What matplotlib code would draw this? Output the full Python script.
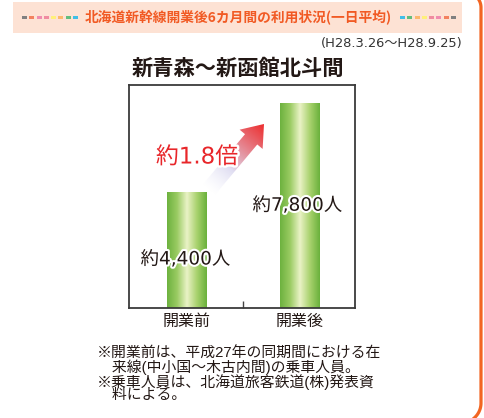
import numpy as np
import matplotlib
matplotlib.use("Agg")
import matplotlib.pyplot as plt
from matplotlib.colors import LinearSegmentedColormap
from matplotlib.patches import Rectangle, Polygon
import matplotlib.patheffects as pe

CJK = ['Noto Sans CJK JP', 'DejaVu Sans']
MIX = ['DejaVu Sans', 'Noto Sans CJK JP']
plt.rcParams['font.family'] = CJK

# ---- data ----
categories = ["開業前", "開業後"]
values = [4400, 7800]
value_labels = ["約4,400人", "約7,800人"]
ratio_label = "約1.8倍"
header_title = "北海道新幹線開業後6カ月間の利用状況(一日平均)"
period_label = "(H28.3.26〜H28.9.25)"
chart_title = "新青森〜新函館北斗間"
notes = ["※開業前は、平成27年の同期間における在",
         "\u3000来線(中小国〜木古内間)の乗車人員。",
         "※乗車人員は、北海道旅客鉄道(株)発表資",
         "\u3000料による。"]
left_squares = ["#808080", "#F3825F", "#F08CB0", "#F08CA0", "#FFF07A", "#FDB86E", "#62BE7E", "#40BEE8"]
right_squares = left_squares[::-1]

W, H = 485, 418
fig = plt.figure(figsize=(W / 100, H / 100), dpi=100)
fig.patch.set_facecolor("white")

# ---- main chart axes ----
ax_l, ax_t, ax_w, ax_h = 129, 85, 226, 223
ax = fig.add_axes([ax_l / W, 1 - (ax_t + ax_h) / H, ax_w / W, ax_h / H])
x = np.arange(len(categories))
bar_w = 0.345
cmap = LinearSegmentedColormap.from_list(
    "g", ["#6DB23F", "#9ACB62", "#EAF2C6", "#A9D26E", "#6AB13C"])
grad = np.linspace(0, 1, 200).reshape(1, -1)
for xi, v in zip(x, values):
    ax.imshow(grad, cmap=cmap, aspect="auto",
              extent=[xi - bar_w / 2, xi + bar_w / 2, 0, v], zorder=2)
ax.set_xlim(-0.509, 1.49)
ax.set_ylim(0, 8500)
ax.set_xticks([0.5])
ax.set_xticklabels([])
ax.tick_params(axis="x", direction="in", length=5, width=1, color="#444444")
ax.set_yticks([])
for s in ax.spines.values():
    s.set_color("#3a3a3a")
    s.set_linewidth(1.3)

stroke = [pe.withStroke(linewidth=3, foreground="white")]
label_y = [0.42, 0.50]
label_dx = [-0.01, -0.02]
for xi, v, lab, fy, dx in zip(x, values, value_labels, label_y, label_dx):
    ax.text(xi + dx, v * fy, lab, ha="center", va="center", fontsize=13.3,
            family=MIX, color="#231815", zorder=5, path_effects=stroke)
for xi, c in zip(x, categories):
    ax.text(xi, -200, c, ha="center", va="top", fontsize=11.5, color="#231815")

# ---- overlay axes in pixel coordinates ----
ov = fig.add_axes([0, 0, 1, 1], zorder=3)
ov.set_xlim(0, W)
ov.set_ylim(H, 0)
ov.axis("off")
ov.patch.set_alpha(0)

# banner
ov.add_patch(Rectangle((13, 2), 449, 31, facecolor="#FDE2D4", edgecolor="none"))
for i, c in enumerate(left_squares):
    ov.add_patch(Rectangle((22 + i * 7.3, 15.7), 5, 3.6, facecolor=c, edgecolor="none"))
for i, c in enumerate(right_squares):
    ov.add_patch(Rectangle((400 + i * 7.3, 15.7), 5, 3.6, facecolor=c, edgecolor="none"))
ov.text(238.5, 17.5, header_title, ha="center", va="center", fontsize=9.9,
        fontweight="bold", color="#F15A24")
ov.text(463, 43, period_label, ha="right", va="center", fontsize=9.4,
        family=MIX, color="#333333")
ov.text(238, 68, chart_title, ha="center", va="center", fontsize=15.3,
        fontweight="bold", color="#231815")

# orange border (right side of rounded frame)
r = 20
cx, cy = 481 - r, 403
ang = np.linspace(0, np.pi / 2, 30)
bot = np.c_[cx + r * np.cos(ang), cy + r * np.sin(ang)]
ang2 = np.linspace(-np.pi / 2, 0, 20)
top = np.c_[466 + 15 * np.cos(ang2), 7.5 + 15 * np.sin(ang2)]
border = np.vstack([top, bot])
ov.plot(border[:, 0], border[:, 1], color="#F26522", lw=2.3, solid_capstyle="butt")

# gradient arrow
theta = np.deg2rad(50)
u = np.array([np.cos(theta), -np.sin(theta)])
n = np.array([np.sin(theta), np.cos(theta)])
tip = np.array([264.0, 124.0])
L, hl, hw, sw = 86, 20, 15, 8
base = tip - u * hl
tail = tip - u * L
poly = np.array([tip, base + n * hw, base + n * sw, tail + n * sw,
                 tail - n * sw, base - n * sw, base - n * hw])
arrow_patch = Polygon(poly, closed=True, facecolor="none", edgecolor="none")
ov.add_patch(arrow_patch)
xs0, xs1 = poly[:, 0].min() - 1, poly[:, 0].max() + 1
ys0, ys1 = poly[:, 1].min() - 1, poly[:, 1].max() + 1
gx, gy = np.meshgrid(np.linspace(xs0, xs1, 200), np.linspace(ys0, ys1, 200))
proj = ((gx - tail[0]) * u[0] + (gy - tail[1]) * u[1]) / L
proj = np.clip(proj, 0, 1)
c0 = np.array([0.93, 0.93, 0.98, 0.0])
c1 = np.array([0.86, 0.85, 0.94, 0.9])
c2 = np.array([0.93, 0.16, 0.16, 1.0])
img = np.zeros(gx.shape + (4,))
k = 0.35
m1 = proj < k
tt = (proj / k)[..., None]
img[m1] = (c0 + (c1 - c0) * tt)[m1]
tt2 = ((proj - k) / (1 - k))[..., None]
tt2 = np.clip(tt2, 0, 1) ** 0.8
img[~m1] = (c1 + (c2 - c1) * tt2)[~m1]
im = ov.imshow(img, extent=[xs0, xs1, ys1, ys0], origin="upper",
               interpolation="bilinear", zorder=4, aspect="auto")
im.set_clip_path(arrow_patch)
ov.set_xlim(0, W)
ov.set_ylim(H, 0)

ov.text(197, 157, ratio_label, ha="center", va="center", fontsize=16.5,
        family=MIX, color="#E8262A", zorder=6,
        path_effects=[pe.withStroke(linewidth=3.5, foreground="white")])

# notes (one text block)
ov.text(97, 347, "\n".join(notes), ha="left", va="top", fontsize=10.7,
        family=['Liberation Sans', 'Noto Sans CJK JP'], color="#231815",
        linespacing=0.89)

fig.savefig("out.png", dpi=100, facecolor="white")
